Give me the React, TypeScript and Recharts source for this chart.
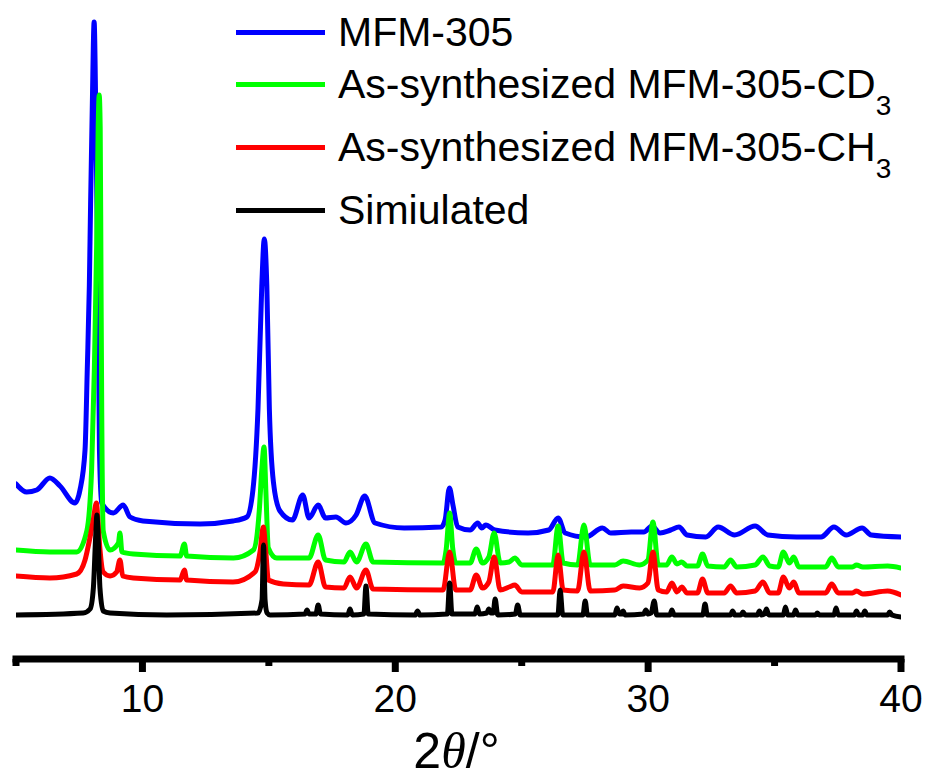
import React from "react";
import { LineChart, Line, XAxis, YAxis } from "recharts";

// Powder XRD patterns, [2θ (deg), intensity (a.u.)] pairs
const mfm305: [number, number][] = [
  [5.0, 53], [5.42, 45], [5.82, 47], [6.34, 59], [6.74, 51], [7.33, 34], [7.53, 47], [7.73, 87],
  [7.82, 169], [7.9, 251], [7.95, 333], [8.02, 435], [8.09, 515], [8.15, 435], [8.2, 333],
  [8.26, 210], [8.3, 87], [8.39, 34], [8.85, 24], [9.24, 32], [9.51, 20], [10.02, 16],
  [12.28, 13], [13.58, 16], [14.13, 20], [14.37, 47], [14.57, 128], [14.72, 251], [14.82, 298],
  [14.92, 251], [15.02, 128], [15.18, 55], [15.44, 26], [15.93, 17], [16.34, 42], [16.59, 19],
  [16.95, 32], [17.24, 19], [17.65, 20], [18.05, 14], [18.45, 22], [18.79, 41], [19.2, 14],
  [20.35, 9], [21.81, 10], [21.97, 17], [22.14, 49], [22.28, 32], [22.47, 10], [22.96, 7],
  [23.26, 14], [23.42, 9], [23.58, 12], [23.94, 7], [25.25, 4], [26.07, 7], [26.44, 19],
  [26.72, 4], [27.54, 0], [28.19, 9], [28.52, 4], [29.33, 5], [29.83, 5], [30.15, 11],
  [30.47, 4], [30.89, 7], [31.22, 10], [31.54, 2], [32.28, 0], [32.77, 10], [33.42, 2],
  [34.23, 11], [34.73, 2], [35.87, 0], [36.84, 0], [37.35, 10], [37.83, 2], [38.46, 9],
  [38.82, 2], [40.0, 0],
];

const asSynCD3: [number, number][] = [
  [5.0, 18], [6.34, 16], [7.4, 16], [7.8, 37], [7.99, 98], [8.1, 200], [8.19, 323], [8.25, 440],
  [8.29, 473], [8.33, 440], [8.36, 300], [8.39, 159], [8.45, 37], [8.72, 18], [9.05, 25],
  [9.11, 35], [9.19, 16], [9.64, 14], [11.49, 12], [11.66, 24], [11.75, 12], [13.6, 10],
  [14.39, 18], [14.62, 57], [14.72, 98], [14.81, 121], [14.88, 78], [14.98, 20], [15.31, 10],
  [16.59, 10], [16.95, 33], [17.24, 8], [17.97, 6], [18.21, 16], [18.47, 6], [18.84, 24],
  [19.12, 6], [21.89, 5], [22.01, 18], [22.15, 55], [22.27, 20], [22.39, 5], [22.96, 5],
  [23.2, 19], [23.45, 5], [23.7, 11], [23.91, 35], [24.15, 5], [24.5, 6], [24.73, 10],
  [25.0, 3], [26.23, 3], [26.44, 42], [26.64, 5], [27.21, 3], [27.46, 43], [27.71, 3],
  [28.68, 3], [29.01, 7], [29.66, 3], [29.99, 8], [30.19, 46], [30.4, 3], [30.73, 3],
  [30.94, 11], [31.14, 4], [31.33, 6], [31.54, 2], [31.95, 2], [32.15, 14], [32.36, 2],
  [33.01, 1], [33.26, 8], [33.5, 1], [34.23, 3], [34.54, 11], [34.81, 2], [35.14, 1],
  [35.35, 16], [35.58, 5], [35.76, 11], [35.96, 1], [37.02, 1], [37.26, 10], [37.52, 1],
  [38.08, 1], [38.24, 3], [38.49, 1], [39.47, 2], [40.0, 0],
];

const asSynCH3: [number, number][] = [
  [5.0, 19], [6.34, 17], [7.4, 21], [7.73, 35], [7.93, 58], [8.05, 74], [8.18, 92], [8.26, 66],
  [8.32, 46], [8.45, 23], [8.72, 19], [8.98, 23], [9.11, 35], [9.22, 19], [9.64, 17],
  [11.49, 15], [11.66, 25], [11.75, 15], [13.58, 13], [14.45, 23], [14.65, 43], [14.78, 68],
  [14.88, 43], [14.98, 15], [15.57, 11], [16.59, 10], [16.95, 33], [17.24, 8], [17.97, 7],
  [18.21, 18], [18.47, 7], [18.84, 25], [19.12, 6], [21.89, 5], [22.15, 43], [22.39, 5],
  [22.96, 5], [23.2, 20], [23.45, 7], [23.7, 13], [23.91, 38], [24.15, 5], [24.5, 8],
  [24.73, 10], [25.0, 3], [26.23, 3], [26.44, 40], [26.64, 5], [27.21, 4], [27.46, 43],
  [27.71, 4], [28.68, 5], [29.01, 9], [29.66, 7], [29.99, 12], [30.19, 43], [30.4, 5],
  [30.73, 3], [30.94, 12], [31.14, 3], [31.33, 8], [31.54, 2], [31.95, 2], [32.15, 16],
  [32.36, 2], [33.01, 2], [33.26, 9], [33.5, 2], [34.23, 4], [34.54, 13], [34.81, 2],
  [35.14, 2], [35.35, 18], [35.58, 7], [35.76, 13], [35.96, 2], [37.02, 2], [37.26, 11],
  [37.52, 2], [38.08, 2], [38.24, 4], [38.49, 1], [39.47, 4], [40.0, 0],
];

const simulated: [number, number][] = [
  [5.0, 2], [7.66, 4], [7.93, 8], [8.06, 29], [8.15, 80], [8.2, 102], [8.25, 80], [8.32, 29],
  [8.45, 6], [8.72, 4], [10.96, 2], [14.57, 4], [14.73, 17], [14.79, 72], [14.85, 17],
  [14.93, 4], [15.05, 2], [16.43, 3], [16.51, 7], [16.59, 3], [16.86, 3], [16.95, 12],
  [17.04, 3], [18.12, 2], [18.21, 8], [18.3, 2], [18.76, 3], [18.84, 31], [18.93, 3],
  [20.79, 2], [20.88, 6], [20.97, 2], [22.06, 3], [22.15, 34], [22.24, 3], [23.15, 3],
  [23.24, 10], [23.33, 3], [23.62, 4], [23.7, 8], [23.78, 4], [23.87, 4], [23.95, 18],
  [24.05, 2], [24.75, 3], [24.84, 12], [24.94, 2], [26.43, 2], [26.52, 27], [26.62, 2],
  [27.42, 2], [27.51, 16], [27.6, 2], [28.68, 2], [28.77, 9], [28.86, 3], [28.94, 3],
  [29.01, 6], [29.09, 2], [29.82, 3], [29.91, 7], [30.0, 3], [30.12, 4], [30.24, 16],
  [30.34, 2], [30.86, 2], [30.94, 7], [31.03, 2], [32.16, 2], [32.25, 13], [32.34, 2],
  [33.26, 2], [33.34, 6], [33.43, 2], [33.67, 2], [33.75, 5], [33.84, 2], [34.32, 2],
  [34.4, 6], [34.49, 2], [34.6, 3], [34.68, 8], [34.77, 2], [35.35, 2], [35.43, 10],
  [35.52, 2], [35.75, 2], [35.83, 7], [35.92, 2], [36.62, 2], [36.69, 4], [36.77, 2],
  [37.35, 2], [37.43, 9], [37.52, 2], [38.16, 2], [38.24, 6], [38.32, 2], [38.49, 2],
  [38.57, 6], [38.65, 2], [39.47, 2], [39.55, 5], [39.64, 2], [40.0, 0],
];

// vertical stacking offsets for each pattern
const offsets = { mfm305: 80, cd3: 49, ch3: 22, sim: 0 };

const xTicks = [5, 10, 15, 20, 25, 30, 35, 40];

type Series = {
  key: string;
  label: string;
  sub?: string;
  color: string;
  points: [number, number][];
  offset: number;
};

const series: Series[] = [
  { key: "mfm305", label: "MFM-305", color: "#0000FF", points: mfm305, offset: offsets.mfm305 },
  { key: "cd3", label: "As-synthesized MFM-305-CD", sub: "3", color: "#00FF00", points: asSynCD3, offset: offsets.cd3 },
  { key: "ch3", label: "As-synthesized MFM-305-CH", sub: "3", color: "#FF0000", points: asSynCH3, offset: offsets.ch3 },
  { key: "sim", label: "Simiulated", color: "#000000", points: simulated, offset: offsets.sim },
];

const FONT = "'Liberation Sans', Arial, Helvetica, sans-serif";

const AxisTick = (props: any) => {
  const { x, y, payload } = props;
  const v = payload.value as number;
  const major = v % 10 === 0;
  return (
    <g>
      <line x1={x} x2={x} y1={y} y2={y + (major ? 13 : 7)} stroke="#000" strokeWidth={7} />
      {major && (
        <text x={x} y={y + 53} textAnchor="middle" fontSize={39} fontFamily={FONT} fill="#000">
          {v}
        </text>
      )}
    </g>
  );
};

const AxisTitle = (props: any) => {
  const vb = props.viewBox || { x: 16, y: 659, width: 885 };
  return (
    <text x={vb.x + vb.width / 2 - 2} y={vb.y + 109} textAnchor="middle" fontSize={50} fontFamily={FONT} fill="#000">
      <tspan>2</tspan>
      <tspan fontStyle="italic" fontFamily="'Liberation Serif', 'Times New Roman', serif">θ</tspan>
      <tspan>/°</tspan>
    </text>
  );
};

function LegendBox() {
  return (
    <div style={{ position: "absolute", left: 236, top: 6, fontFamily: FONT, color: "#000" }}>
      {series.map((s) => (
        <div
          key={s.key}
          style={{
            display: "flex",
            alignItems: "center",
            height: 52,
            marginBottom: s.sub ? 11 : 0,
            whiteSpace: "nowrap",
          }}
        >
          <div style={{ width: 89, height: 5, background: s.color, marginRight: 13 }} />
          <span style={{ fontSize: 41, lineHeight: "52px" }}>
            {s.label}
            {s.sub && (
              <sub style={{ fontSize: 28, verticalAlign: "-0.6em", lineHeight: 0 }}>{s.sub}</sub>
            )}
          </span>
        </div>
      ))}
    </div>
  );
}

export default function App() {
  return (
    <div style={{ position: "absolute", left: 0, top: 0, width: 928, height: 780, background: "#fff" }}>
      <LineChart width={928} height={780} margin={{ top: 9, right: 27, bottom: 0, left: 16 }}>
        <XAxis
          type="number"
          dataKey="t"
          domain={[5, 40]}
          ticks={xTicks}
          interval={0}
          allowDataOverflow
          height={121}
          tickLine={false}
          tickSize={0}
          tickMargin={0}
          tick={<AxisTick />}
          axisLine={{ stroke: "#000", strokeWidth: 7, strokeLinecap: "square" }}
          label={{ content: <AxisTitle /> }}
        />
        <YAxis type="number" hide domain={[-42, 608]} allowDataOverflow />
        {series.map((s) => (
          <Line
            key={s.key}
            data={s.points.map(([t, v]) => ({ t, y: v + s.offset }))}
            dataKey="y"
            name={s.label}
            type="monotone"
            stroke={s.color}
            strokeWidth={5}
            strokeLinejoin="round"
            strokeLinecap="round"
            dot={false}
            activeDot={false}
            isAnimationActive={false}
          />
        ))}
      </LineChart>
      <LegendBox />
    </div>
  );
}
